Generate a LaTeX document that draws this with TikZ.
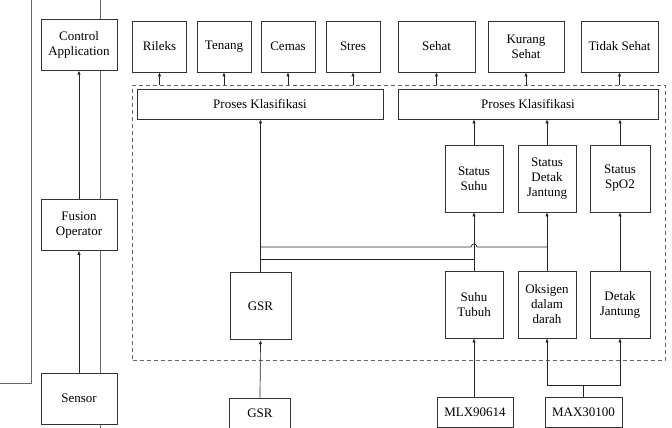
\documentclass[tikz,border=0pt]{standalone}
\usepackage{fontspec}
\setmainfont{Liberation Serif}
\usetikzlibrary{arrows.meta,calc}
\tikzset{
  blk/.style={draw=black!80, fill=white, align=center, inner sep=1pt, font=\fontsize{13}{15}\selectfont},
  arr/.style={draw=black!85, -{Latex[length=4pt,width=3.4pt]}},
  ln/.style={draw=black!85},
}
\begin{document}
\begin{tikzpicture}[x=1pt,y=1pt,line width=0.7pt]
\clip (0,0) rectangle (672,-428);
% left column
\draw[black!60] (31,0) -- (31,-383) -- (0,-383);
\draw[black!60] (100.7,0) -- (100.7,-428);
\node[blk, minimum width=76pt, minimum height=51pt] (ctrl) at (79,-44.75) {Control\\Application};
\node[blk, minimum width=76pt, minimum height=51pt] (fusion) at (79,-225) {Fusion\\Operator};
\node[blk, minimum width=76pt, minimum height=51pt] (sensor) at (79,-398.5) {Sensor};
\draw[arr] (sensor.north) -- (fusion.south);
\draw[arr] (fusion.north) -- (ctrl.south);
% dashed frame
\node[draw=black!60, dash pattern=on 4pt off 3pt, minimum width=532.3pt, minimum height=275.5pt, inner sep=0] (frame) at (398.85,-222.75) {};
% outputs
\node[blk, minimum width=54pt, minimum height=51pt] (rileks) at (159.5,-46.5) {Rileks};
\node[blk, minimum width=54pt, minimum height=51pt] (tenang) at (224,-46.5) {Tenang};
\node[blk, minimum width=54pt, minimum height=51pt] (cemas) at (288,-46.5) {Cemas};
\node[blk, minimum width=54pt, minimum height=51pt] (stres) at (353,-46.5) {Stres};
\node[blk, minimum width=77pt, minimum height=51pt] (sehat) at (436.5,-46.5) {Sehat};
\node[blk, minimum width=76pt, minimum height=51pt] (kurang) at (526,-46.5) {Kurang\\Sehat};
\node[blk, minimum width=77pt, minimum height=51pt] (tidak) at (619.5,-46.5) {Tidak Sehat};
% classification
\node[blk, minimum width=246pt, minimum height=30pt] (prl) at (260,-104) {Proses Klasifikasi};
\node[blk, minimum width=260pt, minimum height=30pt] (prr) at (528,-104) {Proses Klasifikasi};
\draw[arr] (rileks.south |- frame.north) -- (rileks.south);
\draw[arr] (tenang.south |- frame.north) -- (tenang.south);
\draw[arr] (cemas.south |- frame.north) -- (cemas.south);
\draw[arr] (stres.south |- frame.north) -- (stres.south);
\draw[arr] (sehat.south |- frame.north) -- (sehat.south);
\draw[arr] (kurang.south |- frame.north) -- (kurang.south);
\draw[arr] (tidak.south |- frame.north) -- (tidak.south);
% status and sensor values
\node[blk, minimum width=58pt, minimum height=67pt] (ssuhu) at (474,-178.4) {Status\\Suhu};
\node[blk, minimum width=58pt, minimum height=67pt] (sdetak) at (547,-178.4) {Status\\Detak\\Jantung};
\node[blk, minimum width=60pt, minimum height=67pt] (sspo) at (620,-178.4) {Status\\SpO2};
\node[blk, minimum width=61pt, minimum height=67pt] (gsrin) at (260.5,-306.3) {GSR};
\node[blk, minimum width=58pt, minimum height=67pt] (suhu) at (474,-304.5) {Suhu\\Tubuh};
\node[blk, minimum width=58pt, minimum height=67pt] (oks) at (547,-304.5) {Oksigen\\dalam\\darah};
\node[blk, minimum width=60pt, minimum height=67pt] (detak) at (620,-304.5) {Detak\\Jantung};
\draw[arr] (gsrin.north) -- (gsrin.north |- prl.south);
\draw[arr] (ssuhu.north) -- (ssuhu.north |- prr.south);
\draw[arr] (sdetak.north) -- (sdetak.north |- prr.south);
\draw[arr] (sspo.north) -- (sspo.north |- prr.south);
\draw[arr] (suhu.north) -- (ssuhu.south);
\draw[arr] (oks.north) -- (sdetak.south);
\draw[arr] (detak.north) -- (sspo.south);
% bus lines
\coordinate (busA) at (0,-247);
\coordinate (busB) at (0,-259);
\coordinate (busC) at (0,-385.5);
\draw[ln] (gsrin.north |- busB) -- (suhu.north |- busB);
\draw[ln] (gsrin.north |- busA) -- ($(suhu.north |- busA)+(-3,0)$) arc (180:0:3) -- (oks.north |- busA);
% sensors
\node[blk, minimum width=61pt, minimum height=31pt] (gsrb) at (260,-413.5) {GSR};
\node[blk, minimum width=76pt, minimum height=30pt] (mlx) at (475,-412) {MLX90614};
\node[blk, minimum width=77pt, minimum height=30pt] (max) at (583.5,-412) {MAX30100};
\draw[arr] (gsrb.north) -- (gsrin.south);
\draw[arr] (mlx.north -| suhu.south) -- (suhu.south);
\draw[ln] (max.north) -- (max.north |- busC);
\draw[ln] (oks.south |- busC) -- (detak.south |- busC);
\draw[arr] (oks.south |- busC) -- (oks.south);
\draw[arr] (detak.south |- busC) -- (detak.south);
\end{tikzpicture}
\end{document}
